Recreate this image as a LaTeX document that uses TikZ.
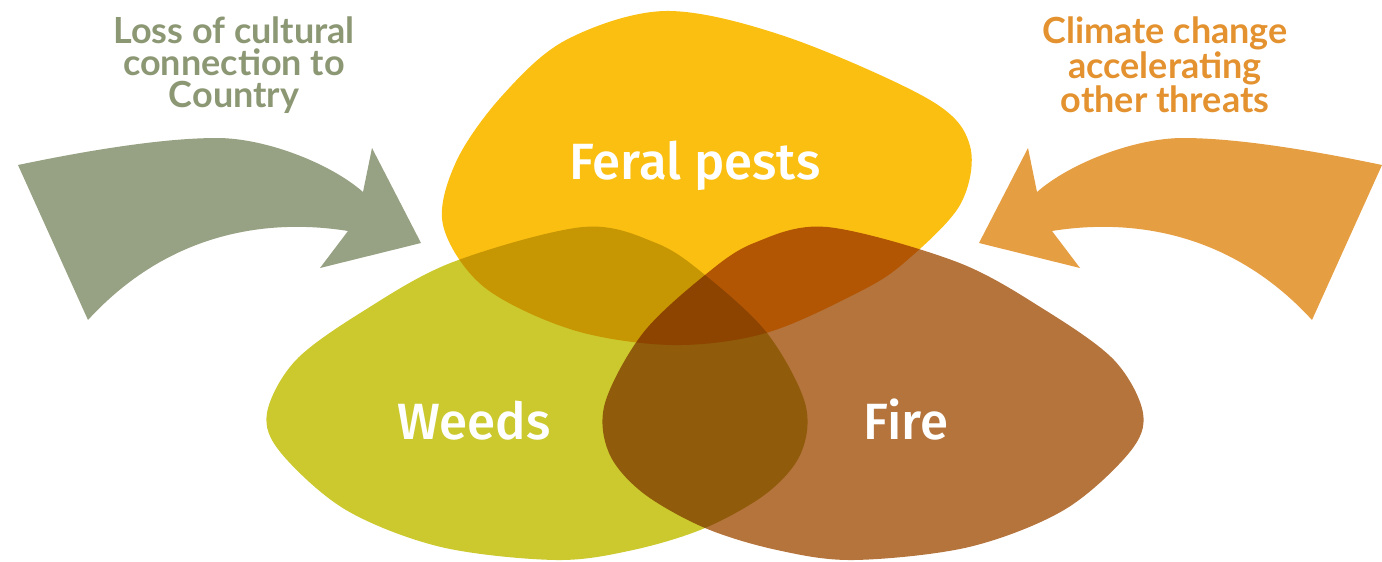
\documentclass[tikz,border=0pt]{standalone}
\usepackage{fontspec}
\newfontfamily\captfont{Lato}
\newfontfamily\blobfont{Fira Sans}[UprightFont={* Medium}]
\definecolor{feral}{HTML}{FBBF12}
\definecolor{weeds}{HTML}{CBC92D}
\definecolor{fire}{HTML}{B5743C}
\definecolor{arrowL}{HTML}{97A183}
\definecolor{textL}{HTML}{8C9774}
\definecolor{arrowR}{HTML}{E69E42}
\definecolor{textR}{HTML}{E3922F}
\tikzset{
  blob/.style={blend mode=multiply},
  bloblabel/.style={text=white, font=\blobfont\fontsize{51}{51}\selectfont, inner sep=0pt, anchor=base},
  caption/.style={align=center, inner sep=0pt, font=\captfont\bfseries\fontsize{36}{32}\selectfont},
  arrowshape/.pic={
    \fill[pic actions] (18,165) .. controls (80,152) and (160,138) .. (217,138)
      .. controls (265,138) and (330,163) .. (363,192)
      -- (372,148) -- (421,243) -- (320,268) -- (348,231)
      .. controls (280,220) and (175,225) .. (88,320) -- cycle;
  },
  weedshape/.pic={
    \fill[pic actions] plot[smooth cycle, tension=0.55] coordinates {
      (365,310) (453,262) (583,227) (656,243) (705,275) (767,333) (805,403)
      (801,453) (767,493) (705,528) (633,550) (556,560) (441,547) (346,510)
      (281,453) (267,413) (296,360)};
  }
}
\begin{document}
\begin{tikzpicture}[x=1pt, y=-1pt]
\useasboundingbox (0,0) rectangle (1382,562);
% arrows
\pic[fill=arrowL] {arrowshape};
\begin{scope}[shift={(1400,0)}, xscale=-1]
\pic[fill=arrowR, transform shape] {arrowshape};
\end{scope}
% blobs
\pic[blob, fill=weeds] {weedshape};
\begin{scope}[shift={(1410,0)}, xscale=-1]
\pic[blob, fill=fire, transform shape] {weedshape};
\end{scope}
\fill[blob, fill=feral] plot[smooth cycle, tension=0.55] coordinates {
  (566,40) (666,11) (787,37) (930,100) (970,146) (960,205) (905,262)
  (859,292) (766,333) (673,345) (573,330) (484,287) (443,225) (456,162) (501,97)};
% labels
\node[bloblabel] (feral) at (695,179) {Feral pests};
\node[bloblabel] (weeds) at (474,439) {Weeds};
\node[bloblabel] (fire) at (906,439) {Fire};
\node[caption, text=textL] (loss) at (234,65) {Loss of cultural\\connection to\\Country};
\node[caption, text=textR] (climate) at (1165,65) {Climate change\\accelerating\\other threats};
\end{tikzpicture}
\end{document}
